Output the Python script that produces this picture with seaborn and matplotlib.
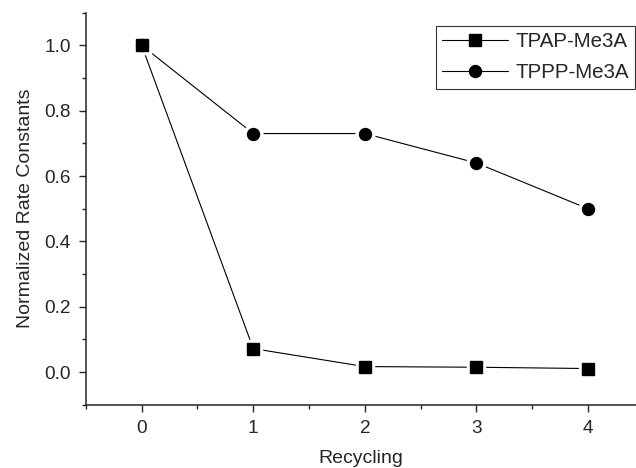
import matplotlib

matplotlib.use("Agg")
import matplotlib.pyplot as plt
import pandas as pd
import seaborn as sns
from matplotlib.ticker import FormatStrFormatter, MultipleLocator

# Data
recycling = [0, 1, 2, 3, 4]
tpap_me3a = [1.0, 0.072, 0.017, 0.015, 0.011]
tppp_me3a = [1.0, 0.73, 0.73, 0.64, 0.50]

sns.set_style("ticks")
plt.rcParams["font.family"] = ["Liberation Sans", "DejaVu Sans"]

df_a = pd.DataFrame({"x": recycling, "y": tpap_me3a})
df_p = pd.DataFrame({"x": recycling, "y": tppp_me3a})

fig = plt.figure(figsize=(6.36, 4.68), dpi=100)
ax = fig.add_axes([0.135, 0.135, 0.865, 0.838])

ms = 8.6
# lines first, then white halo markers to mimic the Origin-style gaps
for d in (df_a, df_p):
    sns.lineplot(data=d, x="x", y="y", color="black", linewidth=0.8, ax=ax, zorder=1)
ax.plot(df_a["x"], df_a["y"], ls="none", marker="s", ms=ms + 5, color="white", zorder=2)
ax.plot(df_p["x"], df_p["y"], ls="none", marker="o", ms=ms + 5, color="white", zorder=2)
ax.plot(df_a["x"], df_a["y"], ls="none", marker="s", ms=ms, color="black", zorder=3)
ax.plot(df_p["x"], df_p["y"], ls="none", marker="o", ms=ms, color="black", zorder=3)

# legend proxies
h1, = ax.plot([], [], color="black", lw=0.8, marker="s", ms=ms, label="TPAP-Me3A")
h2, = ax.plot([], [], color="black", lw=0.8, marker="o", ms=ms, label="TPPP-Me3A")
leg = ax.legend(
    handles=[h1, h2],
    loc="upper right",
    bbox_to_anchor=(0.998, 0.966),
    borderaxespad=0,
    fontsize=14.8,
    handlelength=3.2,
    handletextpad=0.35,
    labelspacing=0.6,
    borderpad=0.3,
    fancybox=False,
    framealpha=1,
    edgecolor="#333333",
)
leg.get_frame().set_linewidth(0.8)

ax.set_xlim(-0.5, 4.43)
ax.set_ylim(-0.1, 1.1)
ax.xaxis.set_major_locator(MultipleLocator(1))
ax.xaxis.set_minor_locator(MultipleLocator(0.5))
ax.yaxis.set_major_locator(MultipleLocator(0.2))
ax.yaxis.set_minor_locator(MultipleLocator(0.1))
ax.yaxis.set_major_formatter(FormatStrFormatter("%.1f"))

sns.despine(ax=ax)
for s in ("left", "bottom"):
    ax.spines[s].set_linewidth(1.1)
ax.tick_params(which="major", direction="out", length=5, width=1, labelsize=13.7, pad=6)
ax.tick_params(which="minor", direction="out", length=3, width=1)

ax.set_xlabel("Recycling", fontsize=14, labelpad=9)
ax.set_ylabel("Normalized Rate Constants", fontsize=14, labelpad=7)

fig.savefig("out.png", dpi=100)
